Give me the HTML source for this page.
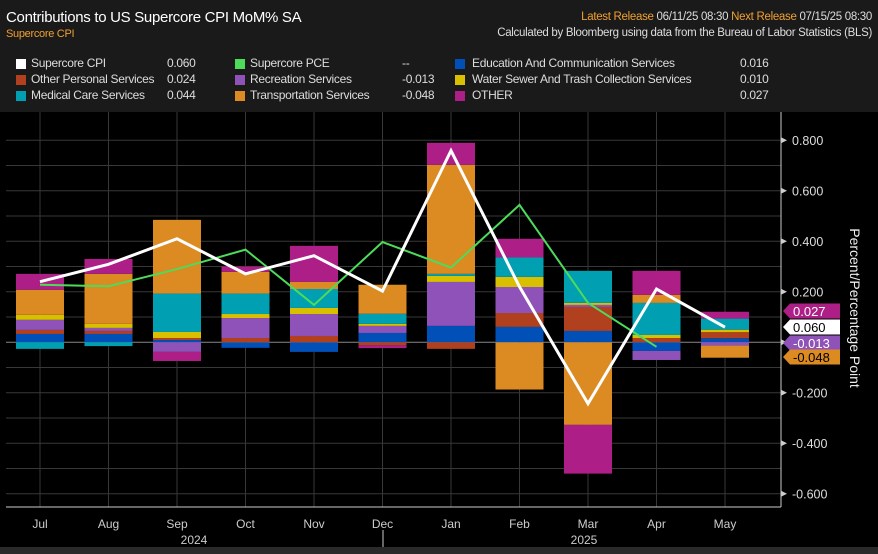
<!DOCTYPE html>
<html><head><meta charset="utf-8"><style>
body{margin:0;background:#000;width:878px;height:554px;overflow:hidden;font-family:"Liberation Sans",sans-serif;}
#hdr{position:absolute;left:0;top:0;width:878px;height:112px;background:#1a1a1a;}
.t{position:absolute;white-space:nowrap;font-size:12px;letter-spacing:-0.3px;color:#ddd;}
.sw{position:absolute;width:10px;height:10px;}
</style></head><body>
<div id="hdr">
<div class="t" style="left:6px;top:9px;font-size:15px;color:#fff">Contributions to US Supercore CPI MoM% SA</div>
<div class="t" style="left:6px;top:28px;font-size:11px;color:#f0a030">Supercore CPI</div>
<div class="t" style="right:6px;top:11px;font-size:11.5px"><span style="color:#f0a030">Latest Release</span> 06/11/25 08:30 <span style="color:#f0a030">Next Release</span> 07/15/25 08:30</div>
<div class="t" style="right:6px;top:27px;font-size:11.5px">Calculated by Bloomberg using data from the Bureau of Labor Statistics (BLS)</div>
<div id="legend"></div>
</div>
<svg id="c" width="878" height="554" style="position:absolute;left:0;top:0"></svg>
<div style="position:absolute;left:0;top:547px;width:878px;height:7px;background:#2a2a2a"></div>
<script>
const months=["Jul","Aug","Sep","Oct","Nov","Dec","Jan","Feb","Mar","Apr","May"];
const edu=[0.033,0.033,0.009,-0.022,-0.038,0.037,0.065,0.061,0.045,-0.034,0.016];
const oth=[0.016,0.012,0.008,0.017,0.025,-0.012,-0.026,0.055,0.095,0.017,0.024];
const rec=[0.040,0.012,-0.038,0.079,0.087,0.028,0.174,0.103,0.008,-0.036,-0.013];
const wat=[0.020,0.016,0.024,0.016,0.024,0.008,0.024,0.040,0.008,0.012,0.010];
const med=[-0.026,-0.015,0.152,0.081,0.075,0.040,0.008,0.077,0.127,0.127,0.044];
const tra=[0.099,0.198,0.292,0.086,0.028,0.115,0.432,-0.187,-0.327,0.032,-0.048];
const otr=[0.063,0.059,-0.036,0.021,0.143,-0.011,0.087,0.074,-0.193,0.095,0.027];
const supercore=[0.24,0.309,0.41,0.271,0.343,0.203,0.759,0.22,-0.243,0.211,0.060];
const pce=[0.228,0.222,0.29,0.367,0.148,0.397,0.296,0.544,0.156,-0.018,null];
const yTicks=[0.8,0.6,0.4,0.2,0,-0.2,-0.4,-0.6];
const series=[["Education And Communication Services",edu,"#0050b8"],["Other Personal Services",oth,"#b0401e"],["Recreation Services",rec,"#8e52b8"],["Water Sewer And Trash Collection Services",wat,"#d8bf00"],["Medical Care Services",med,"#00a0b2"],["Transportation Services",tra,"#dc8a22"],["OTHER",otr,"#ad1f86"]];
const NS="http://www.w3.org/2000/svg",svg=document.getElementById('c');
const y0=342.3,k=252.5;const Y=v=>y0-v*k;const X=i=>40+i*68.5;
function el(t,a,p){const e=document.createElementNS(NS,t);for(const n in a)e.setAttribute(n,a[n]);(p||svg).appendChild(e);return e;}
for(let v=-0.6;v<=0.85;v+=0.1){const g=el('line',{x1:6,x2:781,y1:Y(v),y2:Y(v),stroke:Math.abs(v)<1e-9?'#888':'#383838','stroke-width':1});

}
months.forEach((m,i)=>{const g=el('line',{x1:X(i),x2:X(i),y1:112,y2:507,stroke:'#383838'});


const t=el('text',{x:X(i),y:528,fill:'#ccc','font-size':12,'text-anchor':'middle'});t.textContent=m;

});
el('line',{x1:6,x2:781,y1:507,y2:507,stroke:'#ccc'});
el('line',{x1:781,x2:781,y1:112,y2:507,stroke:'#ccc'});
el('line',{x1:383,x2:383,y1:530,y2:547,stroke:'#ccc'});
[["2024",194],["2025",584]].forEach(a=>{const t=el('text',{x:a[1],y:544,fill:'#ccc','font-size':12,'text-anchor':'middle'});t.textContent=a[0];

});
yTicks.forEach(v=>{el('path',{d:`M781 ${Y(v)-3}L787 ${Y(v)}L781 ${Y(v)+3}Z`,fill:'#ccc'});
const t=el('text',{x:792,y:Y(v)+4.5,fill:'#ddd','font-size':12.5});t.textContent=v.toFixed(3);

});
const yt=el('text',{x:0,y:0,fill:'#eee','font-size':14,'text-anchor':'middle',transform:'translate(850,308) rotate(90)'});yt.textContent='Percent/Percentage Point';


months.forEach((m,i)=>{let p=0,n=0;series.forEach(s=>{const v=s[1][i];if(v==null)return;let a,b;if(v>=0){a=p;b=p+v;p=b;}else{a=n;b=n+v;n=b;}
const r=el('rect',{x:X(i)-24,width:48,y:Math.min(Y(a),Y(b)),height:Math.abs(Y(a)-Y(b)),fill:s[2]});

});});
function line(arr,col,w,name){let d='';arr.forEach((v,i)=>{if(v==null)return;d+=(d?'L':'M')+X(i)+' '+Y(v);});
const l=el('path',{d:d,fill:'none',stroke:col,'stroke-width':w,'stroke-linejoin':'miter'});

}
line(pce,'#4cdc5a',2,'supercore-pce-line');line(supercore,'#fff',3,'supercore-cpi-line');
[[otr,'#ad1f86','#fff'],[supercore,'#fff','#000'],[rec,'#8e52b8','#fff'],[tra,'#dc8a22','#000']].forEach((t,j)=>{const v=t[0][10];const yy=[311,327,343,357][j];
el('path',{d:`M783 ${yy}L790 ${yy-7.5}L840 ${yy-7.5}L840 ${yy+7.5}L790 ${yy+7.5}Z`,fill:t[1]});
const tx=el('text',{x:793,y:yy+5,fill:t[2],'font-size':13});tx.textContent=v.toFixed(3);

});
const lg=document.getElementById('legend');
const items=[["Supercore CPI","0.060","#fff",16,31,167,58],["Other Personal Services","0.024","#b0401e",16,31,167,74],["Medical Care Services","0.044","#00a0b2",16,31,167,90],
["Supercore PCE","--","#4cdc5a",235,250,402,58],["Recreation Services","-0.013","#8e52b8",235,250,402,74],["Transportation Services","-0.048","#dc8a22",235,250,402,90],
["Education And Communication Services","0.016","#0050b8",455,472,740,58],["Water Sewer And Trash Collection Services","0.010","#d8bf00",455,472,740,74],["OTHER","0.027","#ad1f86",455,472,740,90]];
items.forEach(it=>{const d=document.createElement('div');


d.innerHTML=`<div class="sw" style="left:${it[3]}px;top:${it[6]+1}px;background:${it[2]}"></div><div class="t" style="left:${it[4]}px;top:${it[6]-2}px">${it[0]}</div><div class="t" style="left:${it[5]}px;top:${it[6]-2}px">${it[1]}</div>`;lg.appendChild(d);});
</script></body></html>
